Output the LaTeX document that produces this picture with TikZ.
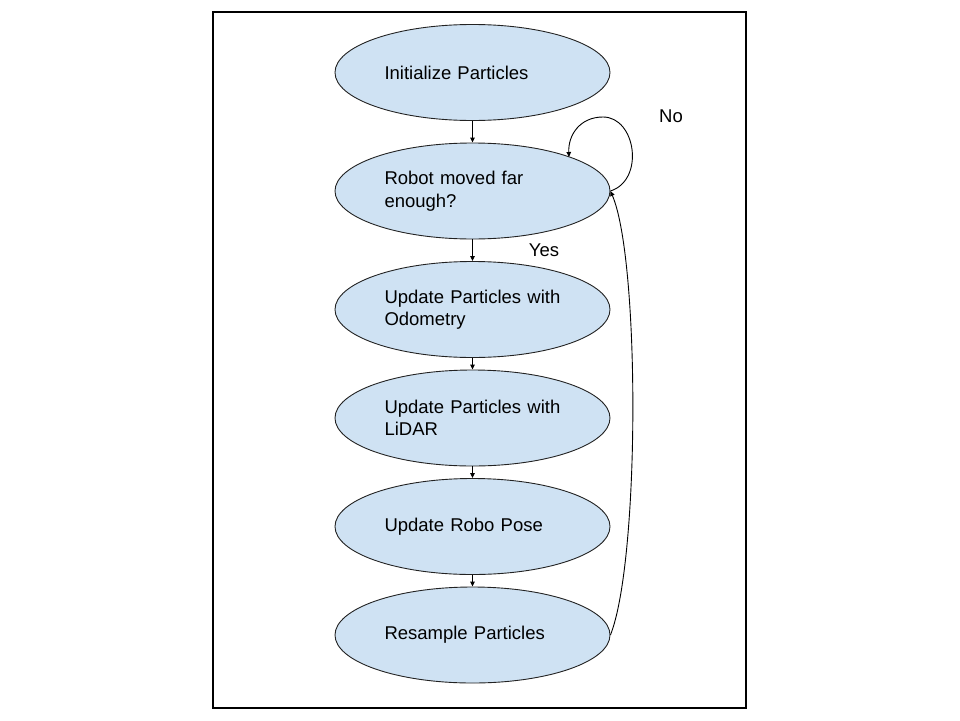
\documentclass[tikz,border=0pt]{standalone}
\usepackage{fontspec}
\setmainfont{Liberation Sans}
\usetikzlibrary{shapes.geometric,arrows.meta}
\definecolor{boxfill}{HTML}{CFE2F3}
\definecolor{boxline}{HTML}{222222}
\tikzset{
  stepbox/.style={ellipse, draw=boxline, line width=0.9pt, fill=boxfill,
    minimum width=275pt, minimum height=96pt, inner sep=0pt,
    text width=176pt, align=left, font=\fontsize{18.5}{22.5}\selectfont},
  conn/.style={draw=black, line width=0.9pt, -{Triangle[length=5pt,width=4.5pt]}},
  lbl/.style={font=\fontsize{18.5}{22.5}\selectfont, inner sep=0pt}
}
\begin{document}
\begin{tikzpicture}[x=1pt,y=-1pt]
\useasboundingbox (0,0) rectangle (960,720);
\draw[line width=1.3pt] (213,12) rectangle (746,708);
\node[stepbox] (e1) at (472.5,72.5) {Initialize Particles};
\node[stepbox] (e2) at (472.5,191) {Robot moved far\\enough?};
\node[stepbox] (e3) at (472.5,309.5) {Update Particles with\\Odometry};
\node[stepbox] (e4) at (472.5,418) {Update Particles with\\LiDAR};
\node[stepbox] (e5) at (472.5,526.5) {Update Robo Pose};
\node[stepbox] (e6) at (472.5,635) {Resample Particles};
\node[lbl] (no) at (671,116) {No};
\node[lbl] (yes) at (544,250) {Yes};
\draw[conn] (e1.south) -- (e2.north);
\draw[conn] (e2.south) -- (e3.north);
\draw[conn] (e3.south) -- (e4.north);
\draw[conn] (e4.south) -- (e5.north);
\draw[conn] (e5.south) -- (e6.north);
\draw[conn] (e6.east) .. controls (640,560) and (640,260) .. (e2.east);
\draw[conn] (e2.east) .. controls (645,180) and (636,117) .. (603,117)
  .. controls (580,117) and (568,135) .. (569,157);
\end{tikzpicture}
\end{document}
